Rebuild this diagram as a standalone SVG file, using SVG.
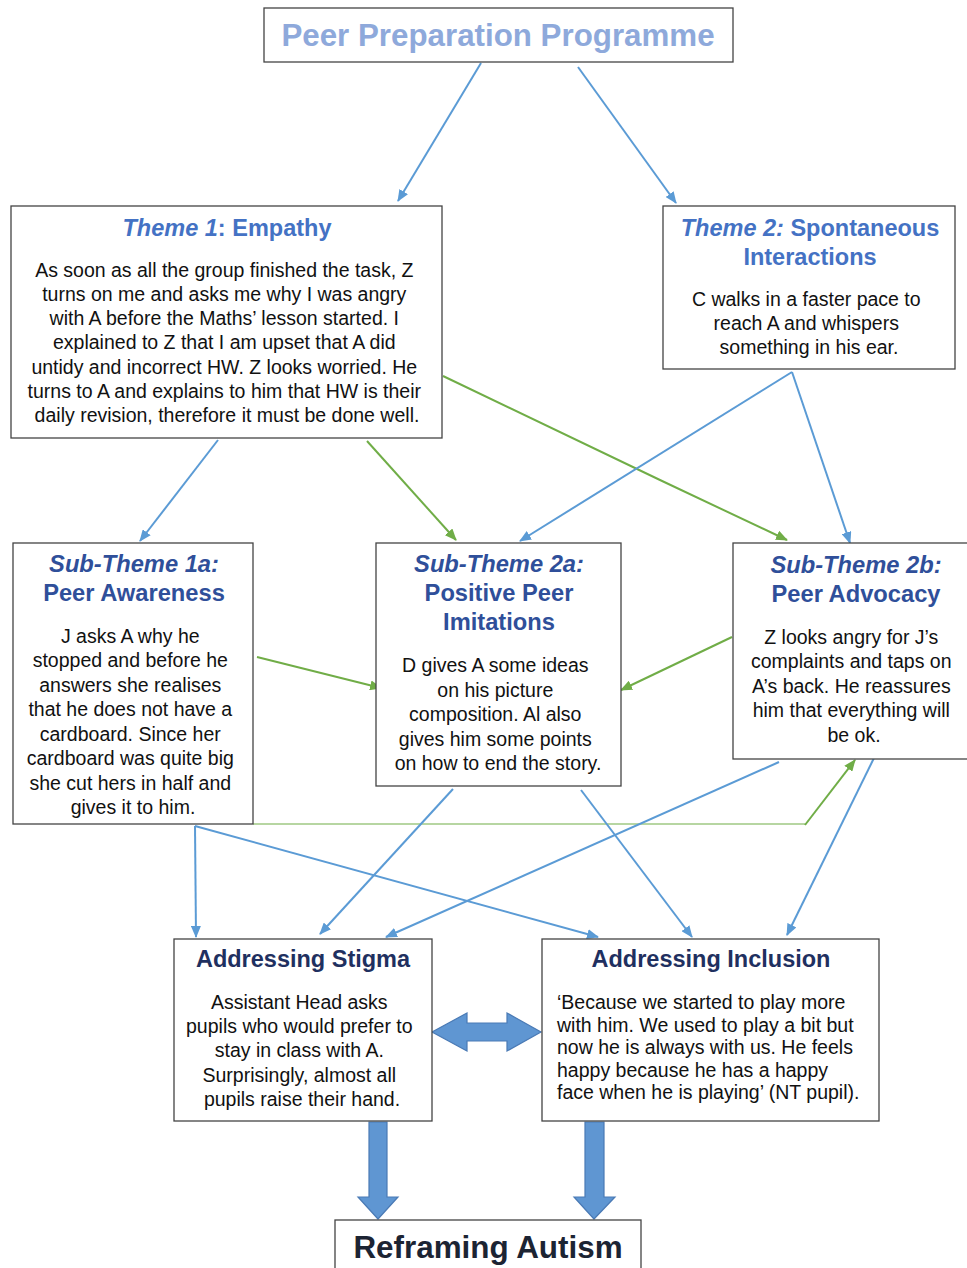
<svg xmlns="http://www.w3.org/2000/svg" width="967" height="1268" viewBox="0 0 967 1268">
<defs>
<marker id="ab" markerWidth="12" markerHeight="10" refX="11" refY="5" orient="auto" markerUnits="userSpaceOnUse"><path d="M0,0 L12,5 L0,10 z" fill="#5B9BD5"/></marker>
<marker id="ag" markerWidth="12" markerHeight="10" refX="11" refY="5" orient="auto" markerUnits="userSpaceOnUse"><path d="M0,0 L12,5 L0,10 z" fill="#70AD47"/></marker>
</defs>
<style>
.box{fill:#fff;stroke:#444;stroke-width:1.3}
.t{font-family:"Liberation Sans",Arial,sans-serif;text-anchor:middle}
.body{font-size:19.5px;fill:#111}
.h1{font-size:31.3px;font-weight:bold;fill:#8EA9DB}
.h2{font-size:23.5px;font-weight:bold;fill:#4472C4}
.h3{font-size:23.7px;font-weight:bold;fill:#2F4F9A}
.h4{font-size:23.5px;font-weight:bold;fill:#1F3060}
.h5{font-size:31.4px;font-weight:bold;fill:#1C2433}
.i{font-style:italic}
.cb{fill:none;stroke:#5B9BD5;stroke-width:2;marker-end:url(#ab)}
.cg{fill:none;stroke:#70AD47;stroke-width:2;marker-end:url(#ag)}
.big{fill:#5F96D2;stroke:#4A7AB5;stroke-width:1.2}
</style>

<g id="connectors">
<line class="cb" x1="481" y1="63" x2="398" y2="201"/>
<line class="cb" x1="578" y1="67" x2="676" y2="203"/>
<line class="cb" x1="218" y1="440" x2="140" y2="541"/>
<line class="cg" x1="367" y1="441" x2="456" y2="540"/>
<polyline class="cg" points="443,376 660,480 787,540"/>
<line class="cb" x1="792" y1="372" x2="520" y2="541"/>
<line class="cb" x1="792" y1="372" x2="850" y2="543"/>
<line class="cg" x1="257" y1="657" x2="381" y2="688"/>
<line class="cg" x1="732" y1="637" x2="621" y2="690"/>
<polyline fill="none" stroke="#70AD47" stroke-width="1.2" points="253,824 805,824"/>
<line class="cg" x1="805" y1="825" x2="855" y2="760"/>
<line class="cb" x1="195" y1="826" x2="196" y2="937"/>
<line class="cb" x1="195" y1="826" x2="598" y2="937"/>
<line class="cb" x1="453" y1="789" x2="320" y2="934"/>
<line class="cb" x1="581" y1="790" x2="692" y2="937"/>
<line class="cb" x1="779" y1="762" x2="386" y2="937"/>
<line class="cb" x1="874" y1="758" x2="787" y2="935"/>
<path class="big" d="M432,1032 L467,1013 L467,1023 L507,1023 L507,1013 L541,1032 L507,1051 L507,1041 L467,1041 L467,1051 z"/>
<path class="big" d="M369,1122 L387,1122 L387,1197 L398,1197 L378,1219 L358,1197 L369,1197 z"/>
<path class="big" d="M585,1122 L604,1122 L604,1197 L615,1197 L594,1219 L574,1197 L585,1197 z"/>
</g>

<g id="node-top">
<rect class="box" x="264" y="8" width="469" height="54"/>
<text class="t h1" x="498" y="46">Peer Preparation Programme</text>
</g>

<g id="node-theme1">
<rect class="box" x="11" y="206" width="431" height="232"/>
<text class="t h2" x="227" y="236"><tspan class="i">Theme 1</tspan>: Empathy</text>
<text class="t body" x="227">
<tspan x="227" y="277">As soon as all the group finished the task, Z</tspan>
<tspan x="227" y="301">turns on me and asks me why I was angry</tspan>
<tspan x="227" y="325">with A before the Maths’ lesson started. I</tspan>
<tspan x="227" y="349">explained to Z that I am upset that A did</tspan>
<tspan x="227" y="374">untidy and incorrect HW. Z looks worried. He</tspan>
<tspan x="227" y="398">turns to A and explains to him that HW is their</tspan>
<tspan x="227" y="422">daily revision, therefore it must be done well.</tspan>
</text>
</g>

<g id="node-theme2">
<rect class="box" x="663" y="206" width="292" height="163"/>
<text class="t h2" x="810"><tspan x="810" y="236"><tspan class="i">Theme 2:</tspan> Spontaneous</tspan><tspan x="810" y="265">Interactions</tspan></text>
<text class="t body">
<tspan x="809" y="306">C walks in a faster pace to</tspan>
<tspan x="809" y="330">reach A and whispers</tspan>
<tspan x="809" y="354">something in his ear.</tspan>
</text>
</g>

<g id="node-sub1a">
<rect class="box" x="13" y="543" width="240" height="281"/>
<text class="t h3"><tspan x="134" y="572" class="i">Sub-Theme 1a:</tspan><tspan x="134" y="601">Peer Awareness</tspan></text>
<text class="t body">
<tspan x="133" y="643">J asks A why he</tspan>
<tspan x="133" y="667">stopped and before he</tspan>
<tspan x="133" y="692">answers she realises</tspan>
<tspan x="133" y="716">that he does not have a</tspan>
<tspan x="133" y="741">cardboard. Since her</tspan>
<tspan x="133" y="765">cardboard was quite big</tspan>
<tspan x="133" y="790">she cut hers in half and</tspan>
<tspan x="133" y="814">gives it to him.</tspan>
</text>
</g>

<g id="node-sub2a">
<rect class="box" x="376" y="543" width="245" height="243"/>
<text class="t h3"><tspan x="499" y="572" class="i">Sub-Theme 2a:</tspan><tspan x="499" y="601">Positive Peer</tspan><tspan x="499" y="630">Imitations</tspan></text>
<text class="t body">
<tspan x="498" y="672">D gives A some ideas</tspan>
<tspan x="498" y="697">on his picture</tspan>
<tspan x="498" y="721">composition. Al also</tspan>
<tspan x="498" y="746">gives him some points</tspan>
<tspan x="498" y="770">on how to end the story.</tspan>
</text>
</g>

<g id="node-sub2b">
<rect class="box" x="733" y="543" width="240" height="216"/>
<text class="t h3"><tspan x="856" y="573" class="i">Sub-Theme 2b:</tspan><tspan x="856" y="602">Peer Advocacy</tspan></text>
<text class="t body">
<tspan x="854" y="644">Z looks angry for J’s</tspan>
<tspan x="854" y="668">complaints and taps on</tspan>
<tspan x="854" y="693">A’s back. He reassures</tspan>
<tspan x="854" y="717">him that everything will</tspan>
<tspan x="854" y="742">be ok.</tspan>
</text>
</g>

<g id="node-stigma">
<rect class="box" x="174" y="939" width="258" height="182"/>
<text class="t h4" x="303" y="967">Addressing Stigma</text>
<text class="t body">
<tspan x="302" y="1009">Assistant Head asks</tspan>
<tspan x="302" y="1033">pupils who would prefer to</tspan>
<tspan x="302" y="1057">stay in class with A.</tspan>
<tspan x="302" y="1082">Surprisingly, almost all</tspan>
<tspan x="302" y="1106">pupils raise their hand.</tspan>
</text>
</g>

<g id="node-inclusion">
<rect class="box" x="542" y="939" width="337" height="182"/>
<text class="t h4" x="711" y="967">Addressing Inclusion</text>
<text class="body" font-family="Liberation Sans, Arial, sans-serif">
<tspan x="557" y="1009">‘Because we started to play more</tspan>
<tspan x="557" y="1031.5">with him. We used to play a bit but</tspan>
<tspan x="557" y="1054">now he is always with us. He feels</tspan>
<tspan x="557" y="1076.5">happy because he has a happy</tspan>
<tspan x="557" y="1099">face when he is playing’ (NT pupil).</tspan>
</text>
</g>

<g id="node-reframing">
<rect class="box" x="335" y="1220" width="306" height="60"/>
<text class="t h5" x="488" y="1258">Reframing Autism</text>
</g>
</svg>
